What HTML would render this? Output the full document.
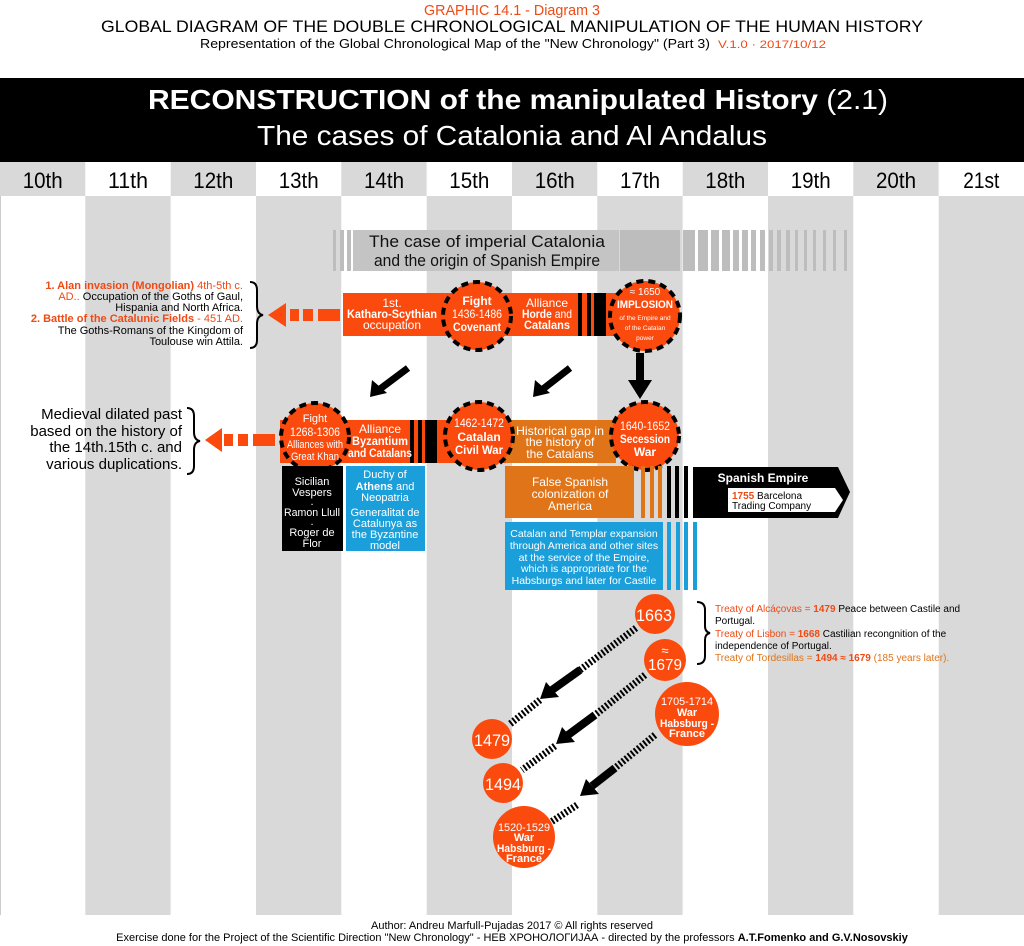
<!DOCTYPE html>
<html><head><meta charset="utf-8"><style>
html,body{margin:0;padding:0;background:#fff}
svg{display:block}
text{font-family:"Liberation Sans",Arial,sans-serif}
</style></head><body>
<svg width="1024" height="946" viewBox="0 0 1024 946" xmlns="http://www.w3.org/2000/svg">
<!-- header text -->
<text x="512" y="15" font-size="15" fill="#f04a14" text-anchor="middle" textLength="176" lengthAdjust="spacingAndGlyphs">GRAPHIC 14.1 - Diagram 3</text>
<text x="512" y="32" font-size="17" fill="#000" text-anchor="middle" textLength="822" lengthAdjust="spacingAndGlyphs">GLOBAL DIAGRAM OF THE DOUBLE CHRONOLOGICAL MANIPULATION OF THE HUMAN HISTORY</text>
<text x="200" y="48" font-size="13" fill="#000" textLength="510" lengthAdjust="spacingAndGlyphs">Representation of the Global Chronological Map of the "New Chronology" (Part 3)</text>
<text x="718" y="48" font-size="11" fill="#f04a14" textLength="108" lengthAdjust="spacingAndGlyphs">V.1.0  ·  2017/10/12</text>

<!-- banner -->
<rect x="0" y="78" width="1024" height="84" fill="#000"/>
<text x="518" y="109" font-size="28" fill="#fff" text-anchor="middle" textLength="740" lengthAdjust="spacingAndGlyphs"><tspan font-weight="bold">RECONSTRUCTION of the manipulated History</tspan> (2.1)</text>
<text x="512" y="145" font-size="28" fill="#fff" text-anchor="middle" textLength="510" lengthAdjust="spacingAndGlyphs">The cases of Catalonia and Al Andalus</text>

<!-- column headers + body -->
<g>
<rect x="0" y="162" width="1024" height="753" fill="#fff"/>
<rect x="0" y="162" width="85.3" height="34" fill="#d9d9d9"/>
<rect x="170.7" y="162" width="85.3" height="34" fill="#d9d9d9"/>
<rect x="341.3" y="162" width="85.3" height="34" fill="#d9d9d9"/>
<rect x="512" y="162" width="85.3" height="34" fill="#d9d9d9"/>
<rect x="682.7" y="162" width="85.3" height="34" fill="#d9d9d9"/>
<rect x="853.3" y="162" width="85.3" height="34" fill="#d9d9d9"/>
<rect x="85.3" y="196" width="85.3" height="719" fill="#d9d9d9"/>
<rect x="256" y="196" width="85.3" height="719" fill="#d9d9d9"/>
<rect x="426.7" y="196" width="85.3" height="719" fill="#d9d9d9"/>
<rect x="597.3" y="196" width="85.3" height="719" fill="#d9d9d9"/>
<rect x="768" y="196" width="85.3" height="719" fill="#d9d9d9"/>
<rect x="938.7" y="196" width="85.3" height="719" fill="#d9d9d9"/>
<line x1="0.5" y1="196" x2="0.5" y2="915" stroke="#ccc"/>
</g>
<g font-size="22" text-anchor="middle" fill="#000">
<text x="42.7" y="188" textLength="40" lengthAdjust="spacingAndGlyphs">10th</text>
<text x="128" y="188" textLength="40" lengthAdjust="spacingAndGlyphs">11th</text>
<text x="213.3" y="188" textLength="40" lengthAdjust="spacingAndGlyphs">12th</text>
<text x="298.7" y="188" textLength="40" lengthAdjust="spacingAndGlyphs">13th</text>
<text x="384" y="188" textLength="40" lengthAdjust="spacingAndGlyphs">14th</text>
<text x="469.3" y="188" textLength="40" lengthAdjust="spacingAndGlyphs">15th</text>
<text x="554.7" y="188" textLength="40" lengthAdjust="spacingAndGlyphs">16th</text>
<text x="640" y="188" textLength="40" lengthAdjust="spacingAndGlyphs">17th</text>
<text x="725.3" y="188" textLength="40" lengthAdjust="spacingAndGlyphs">18th</text>
<text x="810.7" y="188" textLength="40" lengthAdjust="spacingAndGlyphs">19th</text>
<text x="896" y="188" textLength="40" lengthAdjust="spacingAndGlyphs">20th</text>
<text x="981.3" y="188" textLength="36" lengthAdjust="spacingAndGlyphs">21st</text>
</g>

<!-- grey case banner -->
<g fill="#bdbdbd">
<rect x="333" y="230" width="3" height="41"/><rect x="340" y="230" width="4" height="41"/><rect x="347" y="230" width="4" height="41"/>
<rect x="353" y="230" width="266" height="41" fill="#c4c4c4"/>
<rect x="620" y="230" width="60" height="41"/>
<rect x="683" y="230" width="12" height="41"/><rect x="698" y="230" width="10" height="41"/><rect x="711" y="230" width="8" height="41"/>
<rect x="722" y="230" width="8" height="41"/><rect x="733" y="230" width="6" height="41"/><rect x="742" y="230" width="6" height="41"/>
<rect x="751" y="230" width="5" height="41"/><rect x="760" y="230" width="5" height="41"/><rect x="769" y="230" width="4" height="41"/>
<rect x="777" y="230" width="4" height="41"/><rect x="786" y="230" width="4" height="41"/><rect x="795" y="230" width="3" height="41"/>
<rect x="804" y="230" width="3" height="41"/><rect x="813" y="230" width="3" height="41"/><rect x="823" y="230" width="3" height="41"/>
<rect x="833" y="230" width="3" height="41"/><rect x="844" y="230" width="3" height="41"/>
</g>
<text x="487" y="247" font-size="17" text-anchor="middle" fill="#111" textLength="236" lengthAdjust="spacingAndGlyphs">The case of imperial Catalonia</text>
<text x="487" y="266" font-size="17" text-anchor="middle" fill="#111" textLength="226" lengthAdjust="spacingAndGlyphs">and the origin of Spanish Empire</text>

<!-- top row -->
<rect x="343" y="293" width="290" height="43" fill="#fb4a0d"/>
<rect x="578" y="293" width="4" height="43" fill="#000"/><rect x="587" y="293" width="4" height="43" fill="#000"/><rect x="594" y="293" width="12" height="43" fill="#000"/>
<g fill="#fb4a0d"><rect x="318" y="309" width="22" height="12"/><rect x="303" y="309" width="10" height="12"/><rect x="290" y="309" width="9" height="12"/><path d="M286,303L268,315L286,327z"/></g>
<path d="M250,282 q7,0 7,8 v16 q0,8 6,9 q-6,1 -6,9 v16 q0,8 -7,8" fill="none" stroke="#000" stroke-width="2"/>
<g font-size="12" fill="#fff" text-anchor="middle">
<text x="392" y="307">1st.</text>
<text x="392" y="318" font-weight="bold" textLength="90" lengthAdjust="spacingAndGlyphs">Katharo-Scythian</text>
<text x="392" y="329">occupation</text>
<text x="547" y="307">Alliance</text>
<text x="547" y="318" textLength="50" lengthAdjust="spacingAndGlyphs"><tspan font-weight="bold">Horde</tspan> and</text>
<text x="547" y="329" font-weight="bold" textLength="46" lengthAdjust="spacingAndGlyphs">Catalans</text>
</g>
<circle cx="477" cy="316" r="34" fill="#fb4a0d" stroke="#000" stroke-width="4" stroke-dasharray="7,5"/>
<g font-size="12" fill="#fff" text-anchor="middle">
<text x="477" y="305" font-weight="bold">Fight</text>
<text x="477" y="318" textLength="50" lengthAdjust="spacingAndGlyphs">1436-1486</text>
<text x="477" y="331" font-weight="bold" textLength="48" lengthAdjust="spacingAndGlyphs">Covenant</text>
</g>
<circle cx="645" cy="316" r="35" fill="#fb4a0d" stroke="#000" stroke-width="4" stroke-dasharray="7,5"/>
<g fill="#fff" text-anchor="middle">
<text x="645" y="295" font-size="10">≈ 1650</text>
<text x="645" y="308" font-size="11" font-weight="bold" textLength="56" lengthAdjust="spacingAndGlyphs">IMPLOSION</text>
<text x="645" y="320" font-size="6.5">of the Empire and</text>
<text x="645" y="330" font-size="6.5">of the Catalan</text>
<text x="645" y="340" font-size="6.5">power</text>
</g>
<g font-size="11" text-anchor="end">
<text x="243" y="289" fill="#f04a14"><tspan font-weight="bold">1. Alan invasion (Mongolian)</tspan> 4th-5th c.</text>
<text x="243" y="300"><tspan fill="#f04a14">AD..</tspan> Occupation of the Goths of Gaul,</text>
<text x="243" y="311">Hispania and North Africa.</text>
<text x="243" y="322" fill="#f04a14"><tspan font-weight="bold">2. Battle of the Catalunic Fields</tspan> - 451 AD.</text>
<text x="243" y="334">The Goths-Romans of the Kingdom of</text>
<text x="243" y="345">Toulouse win Attila.</text>
</g>

<!-- arrows -->
<line x1="408" y1="368" x2="380" y2="389" stroke="#000" stroke-width="7"/>
<path d="M370,397 L372,380 L387,393z" fill="#000"/>
<line x1="570" y1="368" x2="543" y2="389" stroke="#000" stroke-width="7"/>
<path d="M533,397 L535,380 L550,393z" fill="#000"/>
<rect x="636" y="353" width="8" height="30" fill="#000"/>
<path d="M628,380 L652,380 L640,399z" fill="#000"/>

<!-- second row -->
<rect x="280" y="420" width="226" height="43" fill="#fb4a0d"/>
<rect x="410" y="420" width="4" height="43" fill="#000"/><rect x="418" y="420" width="4" height="43" fill="#000"/><rect x="425" y="420" width="12" height="43" fill="#000"/>
<rect x="506" y="420" width="110" height="43" fill="#e07418"/>
<g fill="#fb4a0d"><rect x="253" y="434" width="22" height="12"/><rect x="238" y="434" width="10" height="12"/><rect x="224" y="434" width="9" height="12"/><path d="M222,428L205,440L222,452z"/></g>
<path d="M187,408 q7,0 7,8 v16 q0,8 6,9 q-6,1 -6,9 v16 q0,8 -7,8" fill="none" stroke="#000" stroke-width="2"/>
<g font-size="15" text-anchor="end">
<text x="182" y="419">Medieval dilated past</text>
<text x="182" y="436">based on the history of</text>
<text x="182" y="452">the 14th.15th c. and</text>
<text x="182" y="469">various duplications.</text>
</g>
<g font-size="12" fill="#fff" text-anchor="middle">
<text x="380" y="433">Alliance</text>
<text x="380" y="445" font-weight="bold" textLength="56" lengthAdjust="spacingAndGlyphs">Byzantium</text>
<text x="380" y="457" font-weight="bold" textLength="64" lengthAdjust="spacingAndGlyphs">and Catalans</text>
<text x="560" y="435" textLength="88" lengthAdjust="spacingAndGlyphs">Historical gap in</text>
<text x="560" y="446">the history of</text>
<text x="560" y="458">the Catalans</text>
</g>
<circle cx="315" cy="437" r="34" fill="#fb4a0d" stroke="#000" stroke-width="4" stroke-dasharray="7,5"/>
<g font-size="11" fill="#fff" text-anchor="middle">
<text x="315" y="422">Fight</text>
<text x="315" y="436" font-size="12" textLength="50" lengthAdjust="spacingAndGlyphs">1268-1306</text>
<text x="315" y="448" textLength="56" lengthAdjust="spacingAndGlyphs">Alliances with</text>
<text x="315" y="460" textLength="48" lengthAdjust="spacingAndGlyphs">Great Khan</text>
</g>
<circle cx="479" cy="436" r="34" fill="#fb4a0d" stroke="#000" stroke-width="4" stroke-dasharray="7,5"/>
<g font-size="12" fill="#fff" text-anchor="middle">
<text x="479" y="427" textLength="50" lengthAdjust="spacingAndGlyphs">1462-1472</text>
<text x="479" y="441" font-weight="bold">Catalan</text>
<text x="479" y="454" font-weight="bold" textLength="48" lengthAdjust="spacingAndGlyphs">Civil War</text>
</g>
<circle cx="645" cy="436" r="34" fill="#fb4a0d" stroke="#000" stroke-width="4" stroke-dasharray="7,5"/>
<g font-size="12" fill="#fff" text-anchor="middle">
<text x="645" y="430" textLength="50" lengthAdjust="spacingAndGlyphs">1640-1652</text>
<text x="645" y="443" font-weight="bold" textLength="50" lengthAdjust="spacingAndGlyphs">Secession</text>
<text x="645" y="456" font-weight="bold">War</text>
</g>

<!-- boxes below -->
<rect x="282" y="466" width="61" height="85" fill="#000"/>
<g font-size="11" fill="#fff" text-anchor="middle">
<text x="312" y="485">Sicilian</text><text x="312" y="496">Vespers</text>
<text x="312" y="505">.</text>
<text x="312" y="516" textLength="56" lengthAdjust="spacingAndGlyphs">Ramon Llull</text>
<text x="312" y="525">.</text>
<text x="312" y="536">Roger de</text><text x="312" y="547">Flor</text>
</g>
<rect x="346" y="466" width="79" height="85" fill="#1a9fdb"/>
<g font-size="11" fill="#fff" text-anchor="middle">
<text x="385" y="478">Duchy of</text>
<text x="385" y="490"><tspan font-weight="bold">Athens</tspan> and</text>
<text x="385" y="501">Neopatria</text>
<text x="385" y="516">Generalitat de</text>
<text x="385" y="527">Catalunya as</text>
<text x="385" y="538">the Byzantine</text>
<text x="385" y="549">model</text>
</g>
<rect x="505" y="466" width="129" height="52" fill="#e07418"/>
<g font-size="12" fill="#fff" text-anchor="middle">
<text x="570" y="486">False Spanish</text>
<text x="570" y="498">colonization of</text>
<text x="570" y="510">America</text>
</g>
<g fill="#e07418"><rect x="641" y="466" width="4" height="52"/><rect x="650" y="466" width="4" height="52"/><rect x="658" y="466" width="4" height="52"/></g>
<g fill="#000"><rect x="667" y="466" width="4" height="52"/><rect x="675" y="466" width="4" height="52"/><rect x="684" y="466" width="4" height="52"/></g>
<path d="M693,467 L838,467 L850,492 L838,518 L693,518z" fill="#000"/>
<text x="763" y="482" font-size="12" fill="#fff" font-weight="bold" text-anchor="middle">Spanish Empire</text>
<path d="M728,488 L835,488 L843,500 L835,512 L728,512z" fill="#fff"/>
<text x="732" y="499" font-size="10"><tspan fill="#f04a14" font-weight="bold">1755</tspan> Barcelona</text>
<text x="732" y="509" font-size="10">Trading Company</text>
<rect x="505" y="522" width="158" height="68" fill="#1a9fdb"/>
<g fill="#1a9fdb"><rect x="667" y="522" width="4" height="68"/><rect x="676" y="522" width="4" height="68"/><rect x="684" y="522" width="4" height="68"/><rect x="693" y="522" width="4" height="68"/></g>
<g font-size="10.5" fill="#fff" text-anchor="middle">
<text x="584" y="537">Catalan and Templar expansion</text>
<text x="584" y="549">through America and other sites</text>
<text x="584" y="561">at the service of the Empire,</text>
<text x="584" y="572">which is appropriate for the</text>
<text x="584" y="584">Habsburgs and later for Castile</text>
</g>

<!-- bottom: dashed connectors -->
<g stroke="#000" stroke-width="7" stroke-dasharray="2,2" fill="none">
<line x1="636" y1="628" x2="580" y2="670"/>
<line x1="540" y1="700" x2="510" y2="724"/>
<line x1="645" y1="675" x2="595" y2="715"/>
<line x1="555" y1="746" x2="522" y2="770"/>
<line x1="655" y1="735" x2="615" y2="768"/>
<line x1="577" y1="805" x2="545" y2="826"/>
</g>
<g fill="#000">
<line x1="580" y1="670" x2="552" y2="690" stroke="#000" stroke-width="8"/>
<path d="M540,699 L546,682 L559,697z"/>
<line x1="595" y1="715" x2="568" y2="735" stroke="#000" stroke-width="8"/>
<path d="M556,744 L562,727 L575,742z"/>
<line x1="615" y1="768" x2="592" y2="786" stroke="#000" stroke-width="8"/>
<path d="M580,796 L586,779 L599,794z"/>
</g>
<g fill="#fb4a0d">
<circle cx="655" cy="614" r="20"/>
<circle cx="665" cy="660" r="21"/>
<circle cx="687" cy="714" r="32"/>
<circle cx="492" cy="739" r="20"/>
<circle cx="503" cy="783" r="20"/>
<circle cx="524" cy="837" r="31"/>
</g>
<g fill="#fff" text-anchor="middle">
<text x="654" y="621" font-size="17" textLength="36" lengthAdjust="spacingAndGlyphs">1663</text>
<text x="665" y="655" font-size="13">≈</text>
<text x="665" y="670" font-size="16" textLength="34" lengthAdjust="spacingAndGlyphs">1679</text>
<text x="492" y="746" font-size="17" textLength="36" lengthAdjust="spacingAndGlyphs">1479</text>
<text x="503" y="790" font-size="17" textLength="36" lengthAdjust="spacingAndGlyphs">1494</text>
<text x="687" y="705" font-size="11" textLength="52" lengthAdjust="spacingAndGlyphs">1705-1714</text>
<text x="687" y="716" font-size="11" font-weight="bold">War</text>
<text x="687" y="727" font-size="11" font-weight="bold" textLength="54" lengthAdjust="spacingAndGlyphs">Habsburg -</text>
<text x="687" y="737" font-size="11" font-weight="bold">France</text>
<text x="524" y="831" font-size="11" textLength="52" lengthAdjust="spacingAndGlyphs">1520-1529</text>
<text x="524" y="841" font-size="11" font-weight="bold">War</text>
<text x="524" y="852" font-size="11" font-weight="bold" textLength="54" lengthAdjust="spacingAndGlyphs">Habsburg -</text>
<text x="524" y="862" font-size="11" font-weight="bold">France</text>
</g>
<path d="M697,602 q8,0 8,8 v16 q0,6 5,7 q-5,1 -5,7 v16 q0,8 -8,8" fill="none" stroke="#000" stroke-width="2"/>
<g font-size="10">
<text x="715" y="612"><tspan fill="#f04a14">Treaty of Alcáçovas = </tspan><tspan fill="#f04a14" font-weight="bold">1479</tspan> Peace between Castile and</text>
<text x="715" y="624">Portugal.</text>
<text x="715" y="637"><tspan fill="#f04a14">Treaty of Lisbon = </tspan><tspan fill="#f04a14" font-weight="bold">1668</tspan> Castilian recongnition of the</text>
<text x="715" y="649">independence of Portugal.</text>
<text x="715" y="661" fill="#e07418">Treaty of Tordesillas = <tspan fill="#f04a14" font-weight="bold">1494 ≈ 1679</tspan> (185 years later).</text>
</g>

<!-- footer -->
<text x="512" y="929" font-size="11" text-anchor="middle">Author: Andreu Marfull-Pujadas 2017 © All rights reserved</text>
<text x="512" y="941" font-size="11" text-anchor="middle">Exercise done for the Project of the Scientific Direction "New Chronology" - НЕВ ХРОНОЛОГИJАА - directed by the professors <tspan font-weight="bold">A.T.Fomenko and G.V.Nosovskiy</tspan></text>
</svg>
</body></html>
